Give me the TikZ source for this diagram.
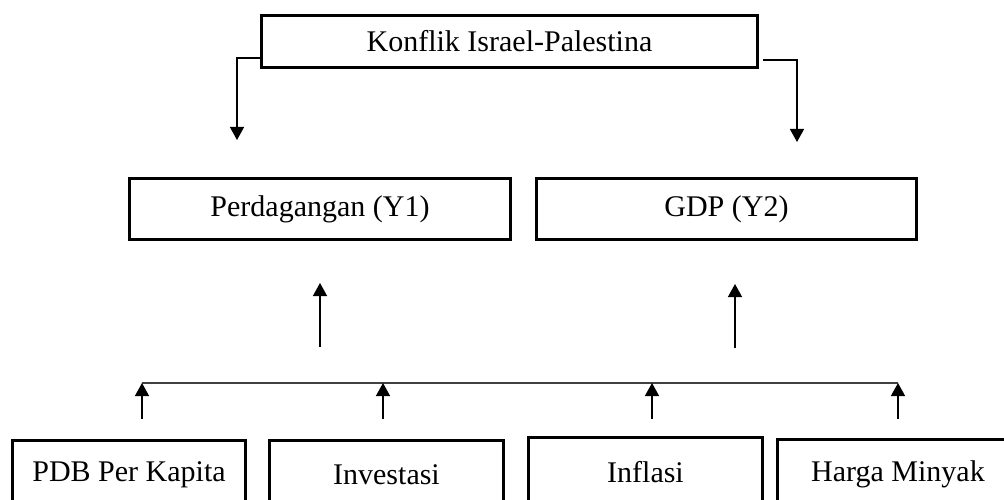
\documentclass[tikz,border=0pt]{standalone}
\usepackage{fontspec}
\setmainfont{Liberation Serif}
\usetikzlibrary{arrows.meta}
\begin{document}
\begin{tikzpicture}[x=1pt,y=-1pt,
  box/.style={draw, line width=2.6pt, inner sep=0pt, font=\fontsize{30}{35}\selectfont},
  conn/.style={line width=1.4pt, -{Triangle[width=14pt,length=13pt]}},
  bus/.style={line width=1.6pt, draw=black!75}]
\useasboundingbox (0,0) rectangle (1004,500);
\clip (0,0) rectangle (1004,500);
% nodes
\node[box, minimum width=496.4pt, minimum height=52.4pt] (top) at (509.5,41.5) {Konflik Israel-Palestina};
\node[box, minimum width=381.4pt, minimum height=61.4pt] (y1) at (320,209) {Perdagangan (Y1)};
\node[box, minimum width=380.4pt, minimum height=61.4pt] (y2) at (726.5,209) {GDP (Y2)};
\node[box, minimum width=233.4pt, minimum height=69.4pt] (pdb) at (129,475) {PDB Per Kapita};
\node[box, minimum width=234.4pt, minimum height=69.4pt] (inv) at (386.5,475) {Investasi};
\node[box, minimum width=234.4pt, minimum height=69.4pt] (inf) at (645.5,472) {Inflasi};
\node[box, minimum width=241.4pt, minimum height=69.4pt] (hm) at (898,474) {Harga Minyak};
% coordinates
\coordinate (lt) at (237,140);
\coordinate (rt) at (797,142);
\coordinate (u1s) at (320,347);
\coordinate (u1e) at (320,283);
\coordinate (u2s) at (735,348);
\coordinate (u2e) at (735,284);
\coordinate (busL) at (142,383);
\coordinate (busR) at (898,383);
\coordinate (b1) at (142,419);
\coordinate (b2) at (383,419);
\coordinate (b3) at (652,419);
\coordinate (b4) at (898,419);
% connectors
\draw[conn] ([yshift=-16.5pt]top.west) -| (lt);
\draw[conn] ([xshift=4pt,yshift=-18.5pt]top.east) -| (rt);
\draw[conn] (u1s) -- (u1e);
\draw[conn] (u2s) -- (u2e);
\draw[bus] (busL) -- (busR);
\draw[conn] (b1) -- (b1 |- busL);
\draw[conn] (b2) -- (b2 |- busL);
\draw[conn] (b3) -- (b3 |- busL);
\draw[conn] (b4) -- (b4 |- busL);
\end{tikzpicture}
\end{document}
